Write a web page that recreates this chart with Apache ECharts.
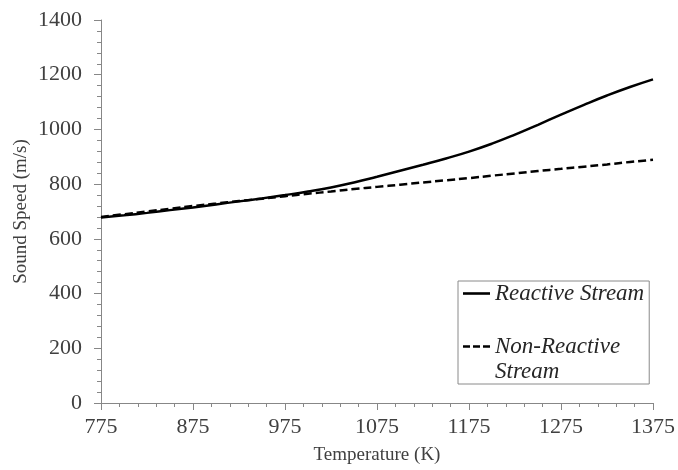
<!DOCTYPE html>
<html>
<head>
<meta charset="utf-8">
<script src="https://cdn.jsdelivr.net/npm/echarts@6/dist/echarts.min.js"></script>
<style>
  html, body { margin: 0; padding: 0; background: #fff; }
  #chart { width: 678px; height: 470px; }
</style>
</head>
<body>
<div id="chart"></div>
<script>
// Temperature samples (K)
const temperatures = [775, 800, 825, 850, 875, 900, 925, 950, 975, 1000, 1025, 1050, 1075,
  1100, 1125, 1150, 1175, 1200, 1225, 1250, 1275, 1300, 1325, 1350, 1375];
// Sound speed of the reacting mixture (m/s)
const reactiveSpeed = [678, 686, 695, 705, 715, 726, 737, 748, 760, 773, 788, 806, 827,
  849, 871, 894, 919, 948, 981, 1017, 1054, 1090, 1124, 1155, 1183];
// Sound speed of the frozen (non-reacting) mixture (m/s)
const nonReactiveSpeed = [680, 690, 700, 710, 720, 729, 738, 747, 756, 765, 773, 782, 790,
  798, 806, 814, 822, 831, 839, 848, 856, 864, 872, 881, 889];
const seriesNames = ['Reactive Stream', 'Non-Reactive Stream'];

const pairs = (xs, ys) => xs.map((x, i) => [x, ys[i]]);

const serif = 'Liberation Serif, Times New Roman, serif';
const axisGrey = '#878787';
const textColor = '#404040';

// Legend keys drawn as filled bars: one solid bar, three dashes
const solidKey = 'path://M0,0h27v2.6h-27z';
const dashedKey = 'path://M0,0h7v2.6h-7z M10,0h7v2.6h-7z M20,0h7v2.6h-7z';

const chart = echarts.init(document.getElementById('chart'));
chart.setOption({
  animation: false,
  backgroundColor: '#fff',
  grid: { left: 101, right: 22, top: 20, bottom: 65 },
  xAxis: {
    type: 'value',
    min: 775, max: 1375, interval: 100,
    name: 'Temperature (K)',
    nameLocation: 'middle',
    nameGap: 43,
    nameMoveOverlap: false,
    nameTextStyle: { fontFamily: serif, fontSize: 19, color: textColor },
    axisLine: { lineStyle: { color: axisGrey, width: 1 } },
    axisTick: { show: true, length: 7, lineStyle: { color: axisGrey } },
    minorTick: { show: true, splitNumber: 5, length: 4, lineStyle: { color: axisGrey } },
    splitLine: { show: false },
    axisLabel: { fontFamily: serif, fontSize: 22, color: textColor, margin: 13, formatter: v => String(v) }
  },
  yAxis: {
    type: 'value',
    min: 0, max: 1400, interval: 200,
    name: 'Sound Speed (m/s)',
    nameLocation: 'middle',
    nameGap: 70,
    nameMoveOverlap: false,
    nameTextStyle: { fontFamily: serif, fontSize: 19, color: textColor },
    axisLine: { show: true, lineStyle: { color: axisGrey, width: 1 } },
    axisTick: { show: true, length: 7, lineStyle: { color: axisGrey } },
    minorTick: { show: true, splitNumber: 5, length: 4, lineStyle: { color: axisGrey } },
    splitLine: { show: false },
    axisLabel: { fontFamily: serif, fontSize: 22, color: textColor, margin: 19, formatter: v => String(v) }
  },
  legend: {
    orient: 'vertical',
    left: 458, top: 281,
    padding: [0, 5, 0, 5],
    borderColor: '#8a8a8a',
    borderWidth: 1,
    itemWidth: 27, itemHeight: 14,
    itemGap: 3,
    textStyle: { fontFamily: serif, fontSize: 23, fontStyle: 'italic', color: '#262626', lineHeight: 25 },
    // the two-line entry starts with an empty line so its first line sits beside the key
    formatter: name => name === seriesNames[1] ? '\nNon-Reactive\nStream' : name,
    data: [
      { name: seriesNames[0], icon: solidKey },
      { name: seriesNames[1], icon: dashedKey }
    ]
  },
  series: [
    {
      name: seriesNames[0],
      type: 'line',
      smooth: true,
      symbol: 'none',
      data: pairs(temperatures, reactiveSpeed),
      lineStyle: { color: '#000', width: 2.5, type: 'solid' },
      itemStyle: { color: '#000' }
    },
    {
      name: seriesNames[1],
      type: 'line',
      smooth: true,
      symbol: 'none',
      data: pairs(temperatures, nonReactiveSpeed),
      lineStyle: { color: '#000', width: 2.5, type: [8, 4] },
      itemStyle: { color: '#000' }
    }
  ]
});
</script>
</body>
</html>
